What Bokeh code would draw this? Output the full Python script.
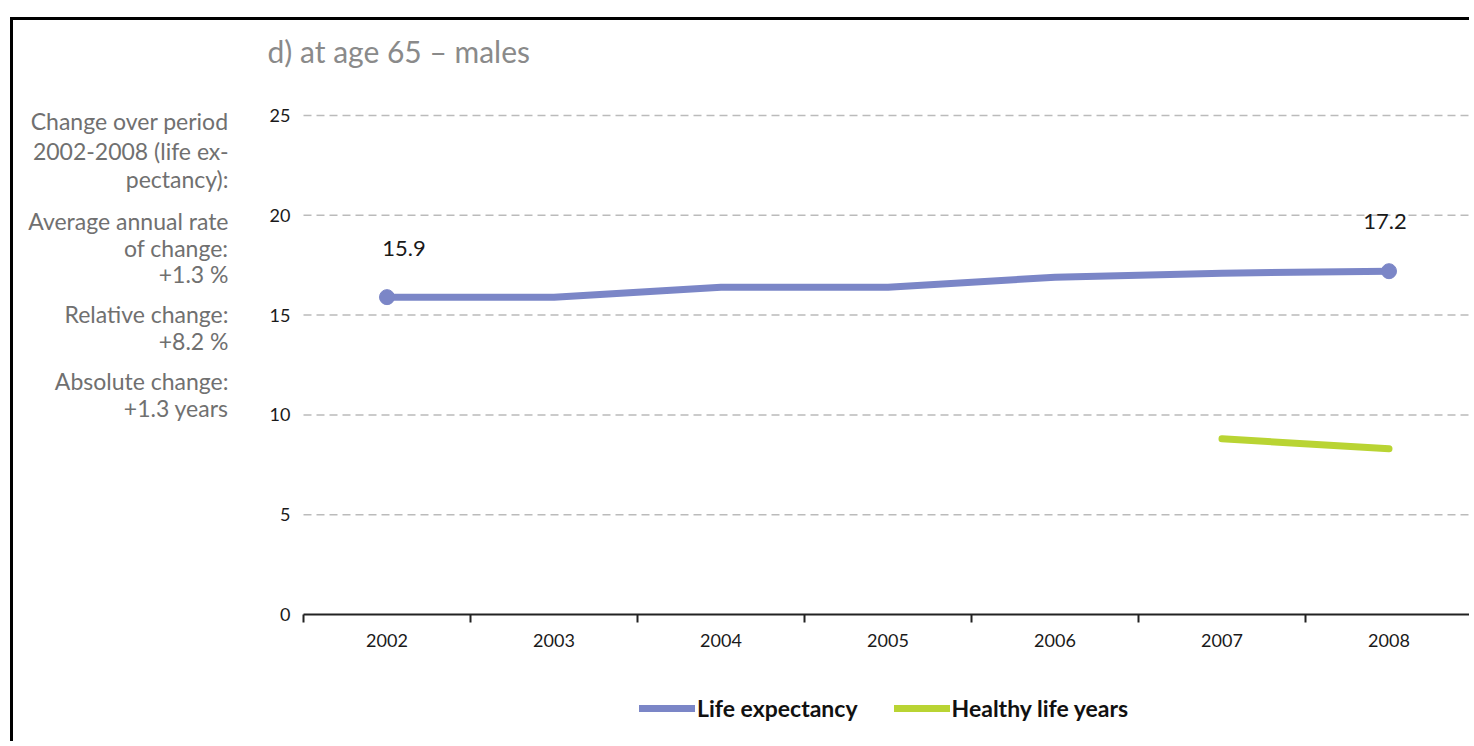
from bokeh.plotting import figure
from bokeh.models import ColumnDataSource, FixedTicker, Legend, LegendItem, Range1d
from bokeh.core.properties import value
from bokeh.embed import file_html
from bokeh.resources import INLINE

# ---- data ----
years = [2002, 2003, 2004, 2005, 2006, 2007, 2008]
year_labels = ["2002", "2003", "2004", "2005", "2006", "2007", "2008"]
life_expectancy = [15.9, 15.9, 16.4, 16.4, 16.9, 17.1, 17.2]
hly_years = [2007, 2008]
healthy_life_years = [8.8, 8.3]
y_ticks = [0, 5, 10, 15, 20, 25]
title_text = "d) at age 65 – males"
side_notes = ["Change over period", "2002-2008 (life ex-", "pectancy):",
              "Average annual rate", "of change:", "+1.3 %",
              "Relative change:", "+8.2 %",
              "Absolute change:", "+1.3 years"]
series_names = ["Life expectancy", "Healthy life years"]

# ---- layout constants (page pixels) ----
FONT = "Lato"
BLUE = "#7b86c7"
GREEN = "#b9d433"
CANVAS_L, CANVAS_T = 13, 20          # canvas origin on the page
W, H = 1459, 724                     # canvas size
PLOT_L, PLOT_R = 303, 1472           # plot area (x) on the page
PLOT_T, PLOT_B = 115, 614            # plot area (y) on the page

x_lo, x_hi = years[0] - 0.5, years[-1] + 0.5
y_lo, y_hi = y_ticks[0], y_ticks[-1]
ppx = (PLOT_R - PLOT_L) / (x_hi - x_lo)
ppy = (PLOT_B - PLOT_T) / (y_hi - y_lo)
x_start = x_lo - (PLOT_L - CANVAS_L) / ppx
x_end = x_start + W / ppx
y_end = y_hi + (PLOT_T - CANVAS_T) / ppy
y_start = y_end - H / ppy


def dx(px):
    return x_start + (px - CANVAS_L) / ppx


def dy(py):
    return y_end - (py - CANVAS_T) / ppy


p = figure(width=W, height=H, output_backend="svg", toolbar_location=None,
           x_range=Range1d(x_start, x_end), y_range=Range1d(y_start, y_end),
           min_border=0, min_border_left=0, min_border_right=0, min_border_top=0, min_border_bottom=0)
p.margin = (CANVAS_T - 3, 0, 0, CANVAS_L - 3)
p.styles = {"border-left": "3px solid black", "border-top": "3px solid black"}
p.outline_line_color = None
p.grid.visible = False

# axes (drawn at the plot-area edges)
p.xaxis.fixed_location = y_lo
p.xaxis.bounds = (x_lo, x_hi)
p.xaxis.ticker = FixedTicker(ticks=years, minor_ticks=[y - 0.5 for y in years] + [years[-1] + 0.5])
p.xaxis.major_label_overrides = {y: l for y, l in zip(years, year_labels)}
p.xaxis.axis_line_color = "#222222"
p.xaxis.axis_line_width = 2
p.xaxis.major_tick_line_color = None
p.xaxis.major_tick_out = 0
p.xaxis.major_tick_in = 0
p.xaxis.minor_tick_line_color = "#222222"
p.xaxis.minor_tick_line_width = 2
p.xaxis.minor_tick_out = 8
p.xaxis.minor_tick_in = 0
p.xaxis.major_label_standoff = 11
p.xaxis.major_label_text_font = FONT
p.xaxis.major_label_text_font_size = "18px"
p.xaxis.major_label_text_color = "#1a1a1a"

p.yaxis.fixed_location = x_lo
p.yaxis.bounds = (y_lo, y_hi)
p.yaxis.ticker = FixedTicker(ticks=y_ticks)
p.yaxis.axis_line_color = None
p.yaxis.major_tick_line_color = None
p.yaxis.minor_tick_line_color = None
p.yaxis.major_tick_out = 0
p.yaxis.major_tick_in = 0
p.yaxis.major_label_standoff = 13
p.yaxis.major_label_text_font = FONT
p.yaxis.major_label_text_font_size = "18px"
p.yaxis.major_label_text_color = "#1a1a1a"

# dashed horizontal gridlines across the plot area
grid_vals = y_ticks[1:]
p.segment(x0=[x_lo] * len(grid_vals), x1=[x_hi] * len(grid_vals), y0=grid_vals, y1=grid_vals,
          line_color="#bbbbbb", line_width=1.5, line_dash="8 5")

# series
le_src = ColumnDataSource(dict(x=years, y=life_expectancy))
le_line = p.line("x", "y", source=le_src, line_color=BLUE, line_width=7, line_cap="round", line_join="round")
end_src = ColumnDataSource(dict(x=[years[0], years[-1]], y=[life_expectancy[0], life_expectancy[-1]],
                                t=[f"{life_expectancy[0]:.1f}", f"{life_expectancy[-1]:.1f}"],
                                xo=[17, -4], yo=[-49, -50]))
p.scatter("x", "y", source=end_src, size=15, fill_color=BLUE, line_color=BLUE)
p.text("x", "y", text="t", source=end_src, x_offset="xo", y_offset="yo",
       text_align="center", text_baseline="alphabetic",
       text_font=value(FONT), text_font_size="22px", text_color="#1a1a1a")

hly_src = ColumnDataSource(dict(x=hly_years, y=healthy_life_years))
hly_line = p.line("x", "y", source=hly_src, line_color=GREEN, line_width=7, line_cap="round")

# title
p.text(x=[dx(267)], y=[dy(50)], text=[title_text], text_align="left", text_baseline="alphabetic",
       text_font=value(FONT), text_font_size="30px", text_color="#8a8a8a")

# side notes
note_baselines = [120, 150, 178, 220, 247, 273, 313, 340, 380, 407]
notes_src = ColumnDataSource(dict(x=[dx(228)] * len(side_notes), y=[dy(b) for b in note_baselines],
                                  t=side_notes))
p.text("x", "y", text="t", source=notes_src, text_align="right", text_baseline="alphabetic",
       text_font=value(FONT), text_font_size="23px", text_color="#707070")

legend = Legend(items=[LegendItem(label=series_names[0], renderers=[le_line]),
                       LegendItem(label=series_names[1], renderers=[hly_line])],
                location=(639 - CANVAS_L, CANVAS_T + H - 722), orientation="horizontal",
                glyph_width=56, glyph_height=22, label_standoff=2, spacing=36,
                padding=0, margin=0, border_line_color=None, background_fill_alpha=0,
                label_text_font=FONT, label_text_font_size="23px", label_text_font_style="bold",
                label_text_color="#111111")
p.add_layout(legend, "center")

open("out.html", "w").write(file_html(p, INLINE))
